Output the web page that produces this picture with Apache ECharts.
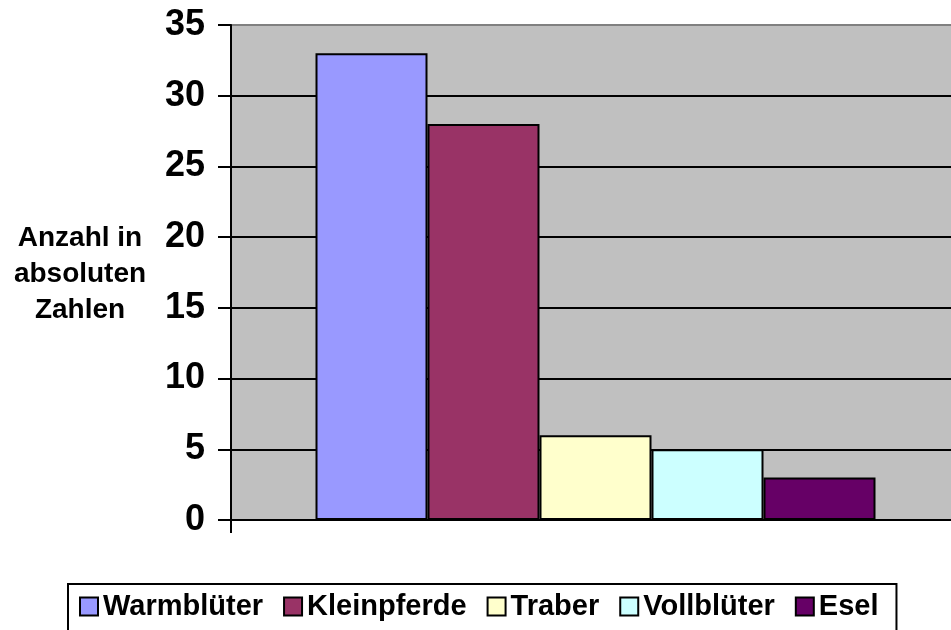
<!DOCTYPE html>
<html>
<head>
<meta charset="utf-8">
<script src="https://cdn.jsdelivr.net/npm/echarts@6/dist/echarts.min.js"></script>
<style>html,body{margin:0;padding:0;background:#fff;}#c{width:951px;height:630px;}</style>
</head>
<body>
<div id="c"></div>
<script>
const seriesNames = ['Warmblüter', 'Kleinpferde', 'Traber', 'Vollblüter', 'Esel'];
const seriesValues = [33, 28, 6, 5, 3];
const seriesColors = ['#9999FF', '#993366', '#FFFFCC', '#CCFFFF', '#660066'];
const categories = [''];
const yTicks = [0, 5, 10, 15, 20, 25, 30, 35];
const yAxisTitle = 'Anzahl in\nabsoluten\nZahlen';

const chart = echarts.init(document.getElementById('c'));
chart.setOption({
  animation: false,
  backgroundColor: '#fff',
  textStyle: { fontFamily: 'Arial, "Liberation Sans", sans-serif' },
  grid: {
    left: 231, width: 729, top: 25, bottom: 110,
    outerBoundsMode: 'none', containLabel: false,
    show: true, backgroundColor: '#C0C0C0', borderColor: '#808080', borderWidth: 2
  },
  graphic: [{
    type: 'text', x: 80, y: 274,
    style: {
      text: yAxisTitle, fontSize: 28, fontWeight: 'bold', fill: '#000',
      fontFamily: 'Arial, "Liberation Sans", sans-serif',
      align: 'center', verticalAlign: 'middle', lineHeight: 36
    }
  }],
  legend: {
    data: seriesNames,
    left: 68, top: 584,
    orient: 'horizontal',
    padding: [8, 18, 40, 11],
    itemWidth: 18, itemHeight: 18, itemGap: 20,
    borderColor: '#000', borderWidth: 2, backgroundColor: '#fff',
    icon: 'rect',
    textStyle: { fontSize: 29, fontWeight: 'bold', color: '#000' }
  },
  xAxis: {
    type: 'category', data: categories,
    axisLine: { lineStyle: { color: '#000', width: 2 } },
    axisTick: { show: true, length: 13, lineStyle: { color: '#000', width: 2 } },
    axisLabel: { show: false },
    splitLine: { show: false }
  },
  yAxis: {
    type: 'value', min: yTicks[0], max: yTicks[yTicks.length - 1], interval: 5,
    axisLine: { show: true, lineStyle: { color: '#000', width: 2 } },
    axisTick: { show: true, length: 13, lineStyle: { color: '#000', width: 2 } },
    axisLabel: { fontSize: 36, fontWeight: 'bold', color: '#000', margin: 26 },
    splitLine: { show: true, showMaxLine: false, lineStyle: { color: '#000', width: 2 } }
  },
  series: seriesNames.map((n, i) => ({
    name: n, type: 'bar', data: [seriesValues[i]],
    barWidth: 112, barGap: '0%',
    itemStyle: { color: seriesColors[i], borderColor: '#000', borderWidth: 2 }
  }))
});
</script>
</body>
</html>
